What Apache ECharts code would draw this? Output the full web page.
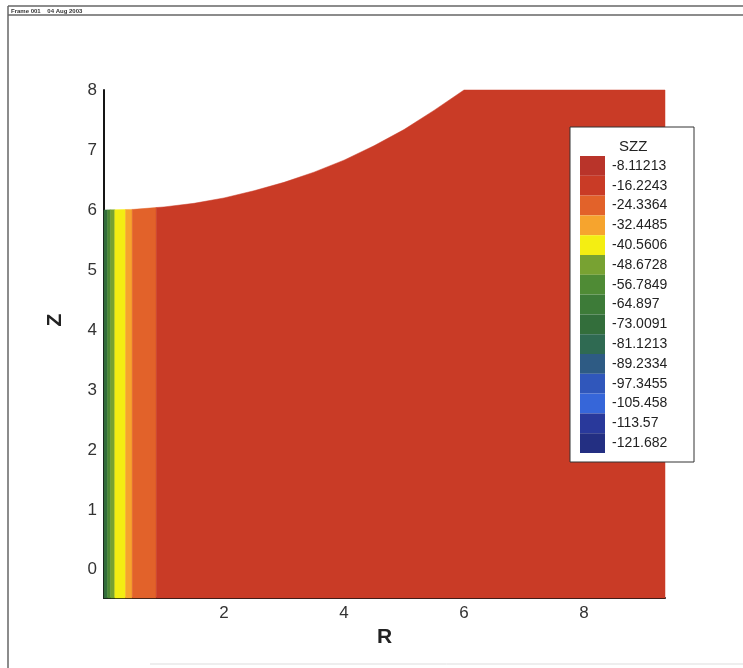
<!DOCTYPE html>
<html>
<head>
<meta charset="utf-8">
<script src="https://cdn.jsdelivr.net/npm/echarts@6/dist/echarts.min.js"></script>
<style>
  html, body { margin: 0; padding: 0; background: #fff; }
  #chart { width: 743px; height: 668px; }
</style>
</head>
<body>
<div id="chart"></div>
<script>
// SZZ contour levels listed in the legend (top to bottom)
const levels = [-8.11213, -16.2243, -24.3364, -32.4485, -40.5606, -48.6728, -56.7849,
  -64.897, -73.0091, -81.1213, -89.2334, -97.3455, -105.458, -113.57, -121.682];
const levelColors = ['#b9342a', '#c93b26', '#e2622a', '#f6a42e', '#f4ee12', '#78a232', '#4f8b35',
  '#3d7b38', '#336e3b', '#2f6a52', '#2e5b84', '#3057bb', '#3666d9', '#29399b', '#232f82'];

// SZZ varies across R only: band edges in R and the value inside each band
const bandEdgesR = [0, 0.06, 0.11, 0.18, 0.36, 0.47, 0.87, 9.35];
const bandSZZ = [-73, -57, -48, -40, -32, -24, -14];

// upper boundary of the domain (R, Z)
const topR = [0, 0.5, 1, 1.5, 2, 2.5, 3, 3.5, 4, 4.5, 5, 5.5, 6, 9.35];
const topZ = [6.00, 6.01, 6.05, 6.11, 6.20, 6.32, 6.46, 6.63, 6.83, 7.07, 7.34, 7.66, 8.00, 8.00];
const zBottom = -0.47;
const rMax = 9.35;

function topAt(r) {
  for (let k = 0; k < topR.length - 1; k++) {
    if (r >= topR[k] && r <= topR[k + 1]) {
      const t = (r - topR[k]) / (topR[k + 1] - topR[k]);
      return topZ[k] + t * (topZ[k + 1] - topZ[k]);
    }
  }
  return topZ[topZ.length - 1];
}

const bandData = bandSZZ.map((v, i) => [bandEdgesR[i], bandEdgesR[i + 1], v]);
const halfStep = (levels[0] - levels[1]) / 2;

const chart = echarts.init(document.getElementById('chart'), null, { renderer: 'canvas' });

const font = 'Liberation Sans, Arial, sans-serif';

chart.setOption({
  animation: false,
  backgroundColor: '#fff',
  grid: { left: 104, right: 78, top: 90, bottom: 70 },
  xAxis: {
    type: 'value', min: 0, max: rMax, splitNumber: 5,
    axisLine: { onZero: false, lineStyle: { color: '#151515', width: 2 } },
    axisTick: { show: false },
    splitLine: { show: false },
    axisLabel: { showMinLabel: false, showMaxLabel: false, fontSize: 17, color: '#333', margin: 7, fontFamily: font },
    name: 'R', nameLocation: 'middle', nameGap: 20,
    nameTextStyle: { fontSize: 21, fontWeight: 'bold', color: '#222', fontFamily: font }
  },
  yAxis: {
    type: 'value', min: zBottom, max: 8, splitNumber: 8,
    axisLine: { onZero: false, lineStyle: { color: '#151515', width: 2 } },
    axisTick: { show: false },
    splitLine: { show: false },
    axisLabel: { showMinLabel: false, fontSize: 17, color: '#333', margin: 7, fontFamily: font }
  },
  visualMap: {
    type: 'piecewise',
    seriesIndex: 0,
    dimension: 2,
    orient: 'vertical',
    pieces: levels.map((lv, i) => ({
      min: lv - halfStep, max: lv + halfStep, label: String(lv), color: levelColors[i]
    })),
    left: 580, top: 156,
    padding: 0,
    itemWidth: 25, itemHeight: 19.8, itemGap: 0,
    itemSymbol: 'rect',
    textGap: 7,
    align: 'left',
    selectedMode: false,
    hoverLink: false,
    textStyle: { fontSize: 14, color: '#222', fontFamily: font },
    z: 6
  },
  graphic: [
    // outer frame and header strip
    { type: 'line', shape: { x1: 8, y1: 6, x2: 743, y2: 6 }, style: { stroke: '#666', lineWidth: 1.5 }, silent: true },
    { type: 'line', shape: { x1: 8, y1: 15, x2: 743, y2: 15 }, style: { stroke: '#666', lineWidth: 1.5 }, silent: true },
    { type: 'line', shape: { x1: 8, y1: 6, x2: 8, y2: 668 }, style: { stroke: '#666', lineWidth: 1.5 }, silent: true },
    { type: 'line', shape: { x1: 150, y1: 664, x2: 743, y2: 664 }, style: { stroke: '#ddd', lineWidth: 1 }, silent: true },
    { type: 'text', left: 11, top: 8, style: { text: 'Frame 001    04 Aug 2003', fontSize: 6, fontWeight: 'bold', fill: '#333', fontFamily: font }, silent: true },
    // vertical axis title
    { type: 'text', x: 55, y: 320, rotation: Math.PI / 2,
      style: { text: 'Z', fontSize: 21, fontWeight: 'bold', fill: '#222', fontFamily: font, align: 'center', verticalAlign: 'middle' }, silent: true },
    // legend box
    { type: 'rect', shape: { x: 570, y: 127, width: 124, height: 335 }, style: { fill: '#fff', stroke: '#333', lineWidth: 1 }, z: 5, silent: true },
    { type: 'text', left: 619, top: 139, style: { text: 'SZZ', fontSize: 15, fill: '#222', fontFamily: font }, z: 6, silent: true }
  ],
  series: [{
    type: 'custom',
    coordinateSystem: 'cartesian2d',
    encode: { x: [0, 1] },
    data: bandData,
    z: 2,
    silent: true,
    renderItem: function (params, api) {
      const r0 = api.value(0), r1 = api.value(1);
      const pts = [api.coord([r0, zBottom]), api.coord([r1, zBottom]), api.coord([r1, topAt(r1)])];
      for (let k = topR.length - 1; k >= 0; k--) {
        if (topR[k] < r1 && topR[k] > r0) pts.push(api.coord([topR[k], topZ[k]]));
      }
      pts.push(api.coord([r0, topAt(r0)]));
      return {
        type: 'polygon',
        shape: { points: pts },
        style: { fill: api.visual('color'), stroke: api.visual('color'), lineWidth: 0.5 }
      };
    }
  }]
});
</script>
</body>
</html>
